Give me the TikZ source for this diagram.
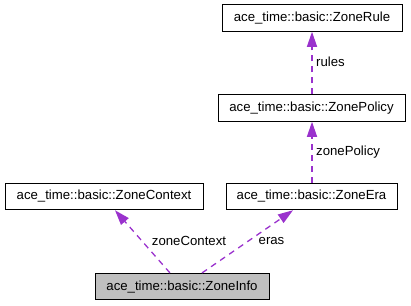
\documentclass[tikz,border=0pt]{standalone}
\usepackage{fontspec}
\setmainfont{Liberation Sans}
\usetikzlibrary{arrows.meta}
\definecolor{usage}{HTML}{9A32CD}
\definecolor{current}{HTML}{BFBFBF}
\tikzset{
  classbox/.style={draw=black, line width=1pt, fill=white, minimum height=26.5pt,
    inner sep=0pt, font=\fontsize{13.2}{15}\selectfont},
  thisclass/.style={classbox, fill=current},
  uses/.style={draw=usage, line width=1.3pt, dash pattern=on 6pt off 5pt,
    -{Triangle[length=15pt,width=10pt,fill=usage]}},
  lbl/.style={font=\fontsize{13.2}{15}\selectfont, inner sep=0pt}
}
\begin{document}
\begin{tikzpicture}[x=1pt,y=-1pt]
\useasboundingbox (0,0) rectangle (411,305);
\node[classbox, minimum width=180pt] (rule)    at (312,18)    {ace\_time::basic::ZoneRule};
\node[classbox, minimum width=187pt] (policy)  at (311.5,108) {ace\_time::basic::ZonePolicy};
\node[classbox, minimum width=198pt] (context) at (104,196.5) {ace\_time::basic::ZoneContext};
\node[classbox, minimum width=171pt] (era)     at (311.5,196.5) {ace\_time::basic::ZoneEra};
\node[thisclass, minimum width=174pt] (info)   at (182,286.7) {ace\_time::basic::ZoneInfo};

\draw[uses] (policy.north -| rule) -- (rule.south);
\draw[uses] (era.north -| rule) -- (policy.south -| rule);
\draw[uses] ([xshift=-12pt]info.north) -- ([xshift=11pt]context.south);
\draw[uses] ([xshift=20pt]info.north) -- ([xshift=-18.5pt]era.south);

\node[lbl, anchor=west] (lrules)   at (316,62)  {rules};
\node[lbl, anchor=west] (lpolicy)  at (316,152) {zonePolicy};
\node[lbl]              (lcontext) at (189,241) {zoneContext};
\node[lbl]              (leras)    at (271.5,241) {eras};
\end{tikzpicture}
\end{document}
